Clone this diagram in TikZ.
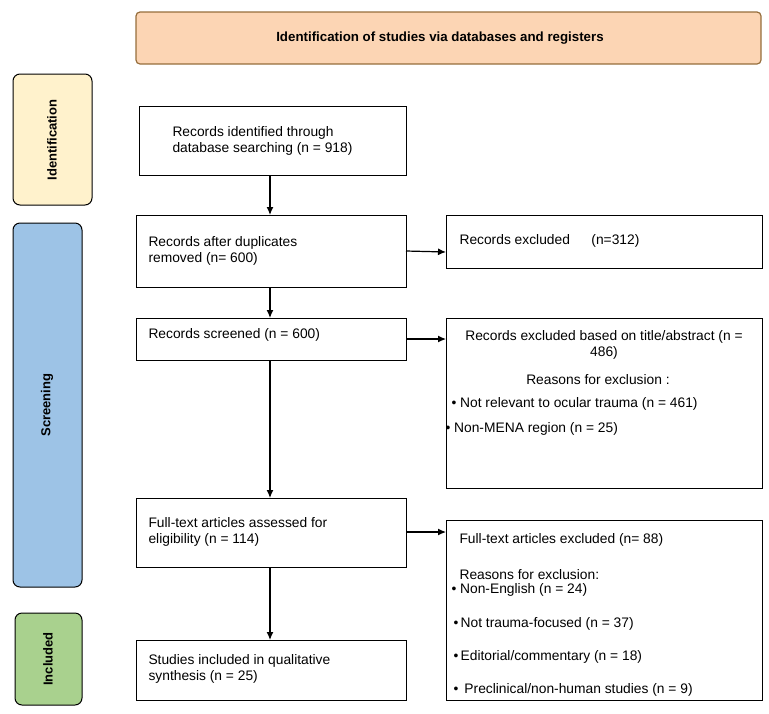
\documentclass[tikz,border=0pt]{standalone}
\usepackage{fontspec}
\setmainfont{Liberation Sans}
\usetikzlibrary{arrows.meta}
\begin{document}
\begin{tikzpicture}[x=1pt,y=-1pt,
  side/.style={draw,line width=1pt,rounded corners=7pt},
  arr/.style={-{Latex[length=8pt,width=7pt]},line width=1.2pt},
  every node/.style={font=\fontsize{13.8}{16.5}\selectfont}]
\useasboundingbox (0,0) rectangle (769,713);
% header
\draw[line width=1.2pt,draw={rgb,255:red,150;green,110;blue,60},fill={rgb,255:red,252;green,213;blue,180},rounded corners=4pt] (136,12) rectangle (761,64);
\node[font=\bfseries\fontsize{13.3}{15}\selectfont] (hdr) at (440,38) {Identification of studies via databases and registers};
% side labels
\draw[side,fill={rgb,255:red,255;green,242;blue,204}] (13,74) rectangle (92,205);
\node[rotate=90,font=\bfseries\fontsize{13}{15}\selectfont] (sid) at (52,140) {Identification};
\draw[side,fill={rgb,255:red,157;green,195;blue,230}] (13,223) rectangle (82,587);
\node[rotate=90,font=\bfseries\fontsize{13}{15}\selectfont] (ssc) at (47,405) {Screening};
\draw[side,fill={rgb,255:red,169;green,209;blue,142}] (15,613) rectangle (82,705);
\node[rotate=90,font=\bfseries\fontsize{13}{15}\selectfont] (sin) at (48,659) {Included};
% boxes
\draw[line width=1pt] (139,106) rectangle (406,175);
\node[align=left,anchor=west] (a) at (169,141) {Records identified through\\database searching (n = 918)};
\coordinate (a1) at (270,175);
\draw[line width=1pt] (136,215) rectangle (406,287);
\node[align=left,anchor=west] (b) at (145,251) {Records after duplicates\\removed (n= 600)};
\coordinate (b0) at (270,215); \coordinate (b1) at (270,287); \coordinate (bR) at (406,251);
\draw[line width=1pt] (446,215) rectangle (762,268);
\node[anchor=west] (c) at (456,241) {Records excluded \quad\ (n=312)};
\coordinate (cL) at (446,252);
\draw[line width=1pt] (136,318) rectangle (406,360);
\node[anchor=west] (d) at (145,335) {Records screened (n = 600)};
\coordinate (d0) at (270,318); \coordinate (d1) at (270,360); \coordinate (dR) at (406,339);
\draw[line width=1pt] (446,318) rectangle (762,488);
\coordinate (eL) at (446,339);
\node[align=center] (e1) at (604,345) {Records excluded based on title/abstract (n =\\486)};
\node (e2) at (598,380) {Reasons for exclusion :};
\node[anchor=west] (e3) at (448,404) {\textbullet\ Not relevant to ocular trauma (n = 461)};
\node[anchor=west] (e4) at (442,429) {\textbullet\ Non-MENA region (n = 25)};
\draw[line width=1pt] (136,498) rectangle (406,567);
\node[align=left,anchor=west] (f) at (145,532) {Full-text articles assessed for\\eligibility (n = 114)};
\coordinate (f0) at (270,498); \coordinate (f1) at (270,567); \coordinate (fR) at (406,532);
\draw[line width=1pt] (446,520) rectangle (762,700);
\coordinate (gL) at (446,532);
\node[anchor=west] (g1) at (456,540) {Full-text articles excluded (n= 88)};
\node[anchor=west] (g2) at (456,575) {Reasons for exclusion:};
\node[anchor=west] (g3) at (448,590) {\textbullet\ Non-English (n = 24)};
\node[anchor=west] (g4) at (450,624) {\textbullet\,Not trauma-focused (n = 37)};
\node[anchor=west] (g5) at (450,657) {\textbullet\,Editorial/commentary (n = 18)};
\node[anchor=west] (g6) at (450,690) {\textbullet\ \,Preclinical/non-human studies (n = 9)};
\draw[line width=1pt] (136,640) rectangle (406,700);
\node[align=left,anchor=west] (h) at (145,669) {Studies included in qualitative\\synthesis (n = 25)};
\coordinate (h0) at (270,640);
% arrows
\draw[arr] (a1) -- (b0);
\draw[arr] (bR) -- (cL);
\draw[arr] (b1) -- (d0);
\draw[arr] (dR) -- (eL);
\draw[arr] (d1) -- (f0);
\draw[arr] (fR) -- (gL);
\draw[arr] (f1) -- (h0);
\end{tikzpicture}
\end{document}
